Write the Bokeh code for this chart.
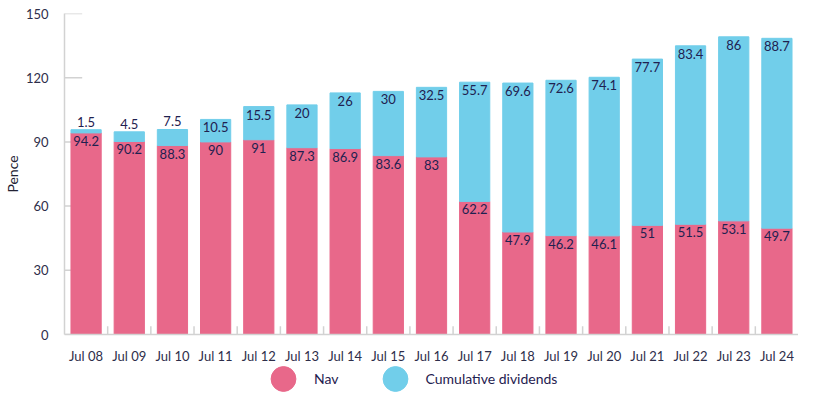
from bokeh.plotting import figure
from bokeh.layouts import column
from bokeh.models import ColumnDataSource, Range1d, Legend, LegendItem
from bokeh.transform import dodge
from bokeh.core.properties import value
from bokeh.embed import file_html
from bokeh.resources import INLINE

# ---- data ----
periods = ["Jul 08", "Jul 09", "Jul 10", "Jul 11", "Jul 12", "Jul 13", "Jul 14", "Jul 15", "Jul 16",
           "Jul 17", "Jul 18", "Jul 19", "Jul 20", "Jul 21", "Jul 22", "Jul 23", "Jul 24"]
nav = [94.2, 90.2, 88.3, 90, 91, 87.3, 86.9, 83.6, 83, 62.2, 47.9, 46.2, 46.1, 51, 51.5, 53.1, 49.7]
cum_div = [1.5, 4.5, 7.5, 10.5, 15.5, 20, 26, 30, 32.5, 55.7, 69.6, 72.6, 74.1, 77.7, 83.4, 86, 88.7]
y_ticks = [0, 30, 60, 90, 120, 150]
series_names = ["Nav", "Cumulative dividends"]

PINK = "#E8688A"
BLUE = "#71CEEA"
TEXT = "#1F2150"
AXIS_TEXT = "#2E2E4A"
GREY = "#D2D2D2"
FONT = "Lato"

fmt = lambda v: f"{v:g}"
totals = [a + b for a, b in zip(nav, cum_div)]

src = ColumnDataSource(dict(cat=periods, nav=nav, div=cum_div, total=totals,
                            nav_lbl=[fmt(v) for v in nav]))
inside = [i for i, d in enumerate(cum_div) if d >= 10]
above = [i for i, d in enumerate(cum_div) if d < 10]
src_in = ColumnDataSource(dict(cat=[periods[i] for i in inside], total=[totals[i] for i in inside],
                               lbl=[fmt(cum_div[i]) for i in inside]))
src_ab = ColumnDataSource(dict(cat=[periods[i] for i in above], total=[totals[i] for i in above],
                               lbl=[fmt(cum_div[i]) for i in above]))
src_xt = ColumnDataSource(dict(cat=periods[:-1]))
src_yt = ColumnDataSource(dict(cat=[periods[0]] * len(y_ticks), y=y_ticks))

p = figure(x_range=periods, y_range=Range1d(0, 150), width=798, height=366,
           output_backend="svg", toolbar_location=None,
           min_border_left=57, min_border_right=0, min_border_top=13, min_border_bottom=30)
p.outline_line_color = None
p.xgrid.grid_line_color = None
p.ygrid.grid_line_color = None

# tick marks: x boundaries (pointing up) and y ticks (pointing inward, behind bars)
p.segment(x0=dodge("cat", 0.5, range=p.x_range), y0=0,
          x1=dodge("cat", 0.5, range=p.x_range), y1=3.8,
          source=src_xt, line_color=GREY, line_width=1.5)
p.segment(x0=dodge("cat", -0.5, range=p.x_range), y0="y",
          x1=dodge("cat", -0.09, range=p.x_range), y1="y",
          source=src_yt, line_color=GREY, line_width=1.5)

p.vbar_stack(["nav", "div"], x="cat", width=0.7, color=[PINK, BLUE], source=src)

p.text(x="cat", y="nav", text="nav_lbl", source=src, text_align="center", text_baseline="top",
       y_offset=3, text_font=value(FONT), text_font_size="13px", text_color=TEXT)
p.text(x="cat", y="total", text="lbl", source=src_in, text_align="center", text_baseline="top",
       y_offset=3, text_font=value(FONT), text_font_size="13px", text_color=TEXT)
p.text(x="cat", y="total", text="lbl", source=src_ab, text_align="center", text_baseline="bottom",
       y_offset=-3, text_font=value(FONT), text_font_size="13px", text_color=TEXT)

# axes
p.yaxis.ticker = y_ticks
p.yaxis.axis_label = "Pence"
p.yaxis.axis_label_text_font = FONT
p.yaxis.axis_label_text_font_style = "normal"
p.yaxis.axis_label_text_font_size = "14px"
p.yaxis.axis_label_text_color = "#222233"
p.yaxis.axis_label_standoff = 2
p.yaxis.major_tick_line_color = None
p.yaxis.minor_tick_line_color = None
p.yaxis.axis_line_color = GREY
p.yaxis.axis_line_width = 1.5
p.yaxis.major_label_standoff = 10
p.yaxis.major_label_text_font = FONT
p.yaxis.major_label_text_font_size = "13px"
p.yaxis.major_label_text_color = AXIS_TEXT

p.xaxis.major_tick_line_color = None
p.xaxis.minor_tick_line_color = None
p.xaxis.axis_line_color = GREY
p.xaxis.axis_line_width = 1.5
p.xaxis.major_label_standoff = 7
p.xaxis.major_label_text_font = FONT
p.xaxis.major_label_text_font_size = "13px"
p.xaxis.major_label_text_color = AXIS_TEXT

# legend figure with circle markers (hidden proxy renderers supply the legend glyphs)
lg = figure(width=798, height=26, output_backend="svg", toolbar_location=None,
            min_border=0, x_axis_type=None, y_axis_type=None)
lg.outline_line_color = None
lg.xgrid.grid_line_color = None
lg.ygrid.grid_line_color = None
proxy = ColumnDataSource(dict(x=[0], y=[0]))
r_nav = lg.scatter(x="x", y="y", source=proxy, marker="circle", size=26,
                   fill_color=PINK, line_color=PINK, visible=False)
r_div = lg.scatter(x="x", y="y", source=proxy, marker="circle", size=26,
                   fill_color=BLUE, line_color=BLUE, visible=False)
legend = Legend(items=[LegendItem(label=series_names[0], renderers=[r_nav]),
                       LegendItem(label=series_names[1], renderers=[r_div])],
                location=(188, -19), orientation="horizontal",
                glyph_width=62, glyph_height=65, label_standoff=0, spacing=25,
                padding=0, margin=0, border_line_color=None, background_fill_alpha=0,
                label_text_font=FONT, label_text_font_size="14px", label_text_color=TEXT)
lg.add_layout(legend, "center")

layout = column(p, lg, spacing=0)
open("out.html", "w").write(file_html(layout, INLINE))
